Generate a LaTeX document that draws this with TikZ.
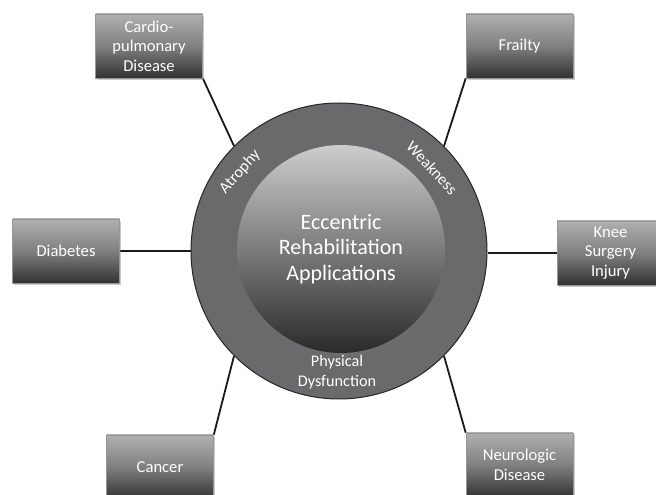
\documentclass[tikz,border=0pt]{standalone}
\usepackage{fontspec}
\setmainfont{Carlito}
\usetikzlibrary{shadows}
\definecolor{ringgray}{RGB}{106,106,108}
\definecolor{boxtop}{RGB}{176,176,176}
\definecolor{boxmid}{RGB}{128,128,128}
\definecolor{boxbot}{RGB}{50,50,50}
\definecolor{boxedge}{RGB}{150,150,150}
\definecolor{coretop}{RGB}{205,205,205}
\definecolor{coremid}{RGB}{140,140,140}
\definecolor{corebot}{RGB}{42,42,42}
\definecolor{linecol}{RGB}{25,25,25}
\pgfdeclarelayer{background}
\pgfsetlayers{background,main}
\begin{document}
\begin{tikzpicture}[x=1pt,y=1pt,
  box/.style={rectangle, minimum width=107pt, minimum height=64pt,
    top color=boxtop, bottom color=boxbot, middle color=boxmid,
    draw=boxedge, line width=0.6pt, text=white, inner sep=2pt,
    font=\fontsize{16.6}{19.5}\selectfont, align=center,
    drop shadow={opacity=0.4, shadow xshift=1.5pt, shadow yshift=-2pt}},
  conn/.style={draw=linecol, line width=1.8pt},
  ringtext/.style={text=white, font=\fontsize{16.2}{20}\selectfont, align=center}]
\useasboundingbox (0,0) rectangle (656,495);
% ring
\node[circle, minimum size=296pt, inner sep=0pt, fill=ringgray,
      draw=black!85, line width=1pt] (ring) at (339,244) {};
% core
\node[circle, minimum size=208pt, inner sep=0pt,
      top color=coretop, middle color=coremid, bottom color=corebot,
      circular drop shadow={opacity=0.55, shadow xshift=0pt, shadow yshift=-3pt, shadow scale=1.02},
      text=white, font=\fontsize{22}{25.5}\selectfont, align=center]
      (core) at (341,246) {Eccentric\\Rehabilitation\\Applications};
% ring labels
\node[ringtext, rotate=48] (atrophy) at (240,323) {Atrophy};
\node[ringtext, rotate=-47] (weak) at (432,327) {Weakness};
\node[ringtext] (phys) at (337,123) {Physical\\Dysfunction};
% boxes
\node[box] (cardio) at (149,449) {Cardio-\\pulmonary\\Disease};
\node[box] (frail) at (519.5,449) {Frailty};
\node[box] (diab) at (66,244) {Diabetes};
\node[box] (knee) at (610.5,242) {Knee\\Surgery\\Injury};
\node[box] (cancer) at (160,28) {Cancer};
\node[box] (neuro) at (519.5,30) {Neurologic\\Disease};
% connectors
\begin{pgfonlayer}{background}
\draw[conn] (cardio.south east) -- (ring.135);
\draw[conn] (frail.south west) -- (ring.45);
\draw[conn] (diab.east) -- (ring.west);
\draw[conn] (knee.west) -- (knee.west -| ring.east);
\draw[conn] (cancer.north east) -- (ring.225);
\draw[conn] (neuro.north west) -- (ring.315);
\end{pgfonlayer}
\end{tikzpicture}
\end{document}
